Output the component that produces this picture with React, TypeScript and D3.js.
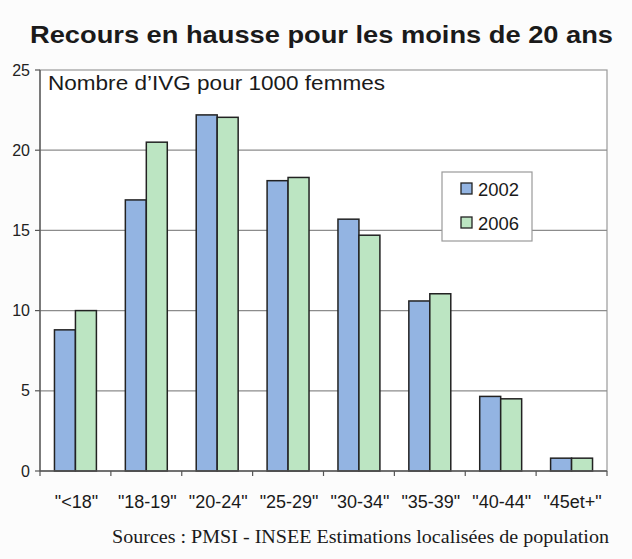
import React from "react";
import * as d3 from "d3";

const categories = ['"<18"', '"18-19"', '"20-24"', '"25-29"', '"30-34"', '"35-39"', '"40-44"', '"45et+"'];
const seriesNames = ["2002", "2006"];
const values2002 = [8.8, 16.9, 22.2, 18.1, 15.7, 10.6, 4.65, 0.8];
const values2006 = [10.0, 20.5, 22.05, 18.3, 14.7, 11.05, 4.5, 0.8];
const yTicks = [0, 5, 10, 15, 20, 25];
const colors = ["#93b4e2", "#bce5c2"];

const W = 632;
const H = 559;
const left = 40;
const right = 607;
const top = 70;
const bottom = 471;

export default function App() {
  const x0 = d3.scaleBand<string>().domain(categories).range([left, right]).paddingInner(0).paddingOuter(0);
  const x1 = d3.scaleBand<string>().domain(seriesNames).range([0, x0.bandwidth()]).paddingInner(0).paddingOuter(0.69);
  const y = d3.scaleLinear().domain([0, 25]).range([bottom, top]);
  const seriesValues = [values2002, values2006];
  const font = "Liberation Sans, Arial, sans-serif";

  return (
    <svg width={W} height={H} style={{ position: "absolute", left: 0, top: 0, background: "#fcfcfc" }}>
      <rect x={0} y={0} width={W} height={H} fill="#fcfcfc" />
      <text x={30} y={43} textLength={583} lengthAdjust="spacingAndGlyphs" fontFamily={font} fontWeight="bold" fontSize={24} fill="#1a1a1a">
        Recours en hausse pour les moins de 20 ans
      </text>
      {/* plot border */}
      <rect x={left} y={top} width={right - left} height={bottom - top} fill="#ffffff" stroke="#9a9a9a" strokeWidth={1.2} />
      {yTicks.map((t) => (
        <g key={t}>
          {t > 0 && t < 25 && (
            <line x1={left} x2={right} y1={y(t)} y2={y(t)} stroke="#8c8c8c" strokeWidth={1.2} />
          )}
          <line x1={left - 5} x2={left} y1={y(t)} y2={y(t)} stroke="#555" strokeWidth={1.2} />
          <text x={30} y={y(t) + 5.5} textAnchor="end" fontFamily={font} fontSize={16} fill="#222">
            {t}
          </text>
        </g>
      ))}
      <text x={48} y={90} textLength={337} lengthAdjust="spacingAndGlyphs" fontFamily={font} fontSize={21} fill="#1a1a1a">
        Nombre d’IVG pour 1000 femmes
      </text>
      {categories.map((c, i) => (
        <g key={c}>
          {seriesNames.map((s, j) => {
            const v = seriesValues[j][i];
            return (
              <rect
                key={s}
                x={(x0(c) as number) + (x1(s) as number)}
                y={y(v)}
                width={x1.bandwidth()}
                height={bottom - y(v)}
                fill={colors[j]}
                stroke="#222"
                strokeWidth={1.5}
              />
            );
          })}
          <text
            x={(x0(c) as number) + x0.bandwidth() / 2 + 1}
            y={508}
            textAnchor="middle"
            fontFamily={font}
            fontSize={18}
            fill="#1a1a1a"
          >
            {c}
          </text>
        </g>
      ))}
      {/* axes */}
      <line x1={left} x2={left} y1={top} y2={bottom} stroke="#555" strokeWidth={1.3} />
      <line x1={left} x2={right} y1={bottom} y2={bottom} stroke="#555" strokeWidth={1.3} />
      {categories.concat(["end"]).map((c, i) => {
        const xx = left + i * x0.step();
        return <line key={"t" + i} x1={xx} x2={xx} y1={bottom} y2={bottom + 5} stroke="#555" strokeWidth={1.2} />;
      })}
      {/* legend */}
      <rect x={442} y={172} width={90} height={69} fill="#ffffff" stroke="#9a9a9a" strokeWidth={1.2} />
      {seriesNames.map((s, j) => (
        <g key={s}>
          <rect x={461} y={183 + j * 34} width={11} height={11} fill={colors[j]} stroke="#222" strokeWidth={1.3} />
          <text x={478} y={195.5 + j * 34} textLength={41} lengthAdjust="spacingAndGlyphs" fontFamily={font} fontSize={18} fill="#1a1a1a">
            {s}
          </text>
        </g>
      ))}
      <text x={112} y={543} textLength={497} lengthAdjust="spacingAndGlyphs" fontFamily="Liberation Serif, Times New Roman, serif" fontSize={18} fill="#1a1a1a">
        Sources : PMSI - INSEE Estimations localisées de population
      </text>
    </svg>
  );
}
